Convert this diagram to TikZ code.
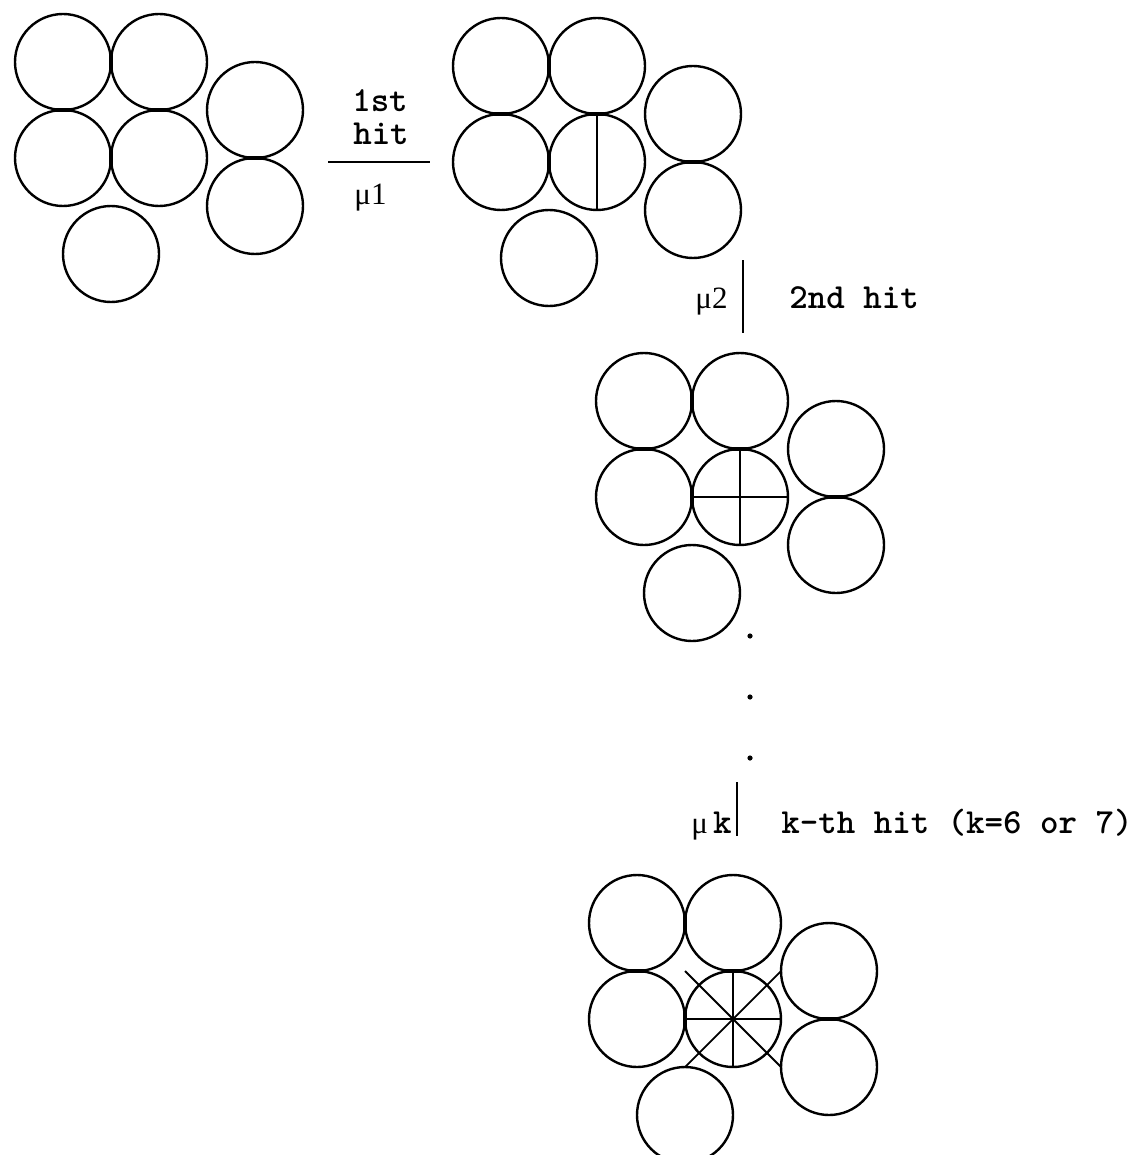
\documentclass[tikz,border=0pt]{standalone}
\usepackage{fontspec}
\setmainfont{Liberation Serif}
\usetikzlibrary{calc}
\tikzset{
  ball/.style={circle, draw, line width=1.2pt, minimum size=48pt, inner sep=0pt, outer sep=0pt},
  contact/.style={line width=2.4pt},
  hitline/.style={line width=1.3pt},
  diagline/.style={line width=0.9pt},
  conn/.style={line width=1.3pt},
  lab/.style={font=\ttfamily\bfseries\fontsize{17.6}{20}\selectfont, inner sep=0pt},
  mu/.style={font=\fontsize{15.5}{18}\selectfont, inner sep=0pt},
}
\newcommand\mycluster[4]{% #1 prefix, #2 x, #3 y, #4 name of middle-right ball
  \node[ball] (#1tl) at (#2,#3) {};
  \node[ball] (#1tr) at (#2+96,#3) {};
  \node[ball] (#1ml) at (#2,#3+96) {};
  \node[ball] (#1#4) at (#2+96,#3+96) {};
  \node[ball] (#1b)  at (#2+48,#3+192) {};
  \node[ball] (#1rt) at (#2+192,#3+48) {};
  \node[ball] (#1rb) at (#2+192,#3+144) {};
  \draw[contact] ($(#1tl.east)+(0,-10)$) -- ($(#1tl.east)+(0,10)$);
  \draw[contact] ($(#1tl.south)+(-10,0)$) -- ($(#1tl.south)+(10,0)$);
  \draw[contact] ($(#1tr.south)+(-10,0)$) -- ($(#1tr.south)+(10,0)$);
  \draw[contact] ($(#1ml.east)+(0,-10)$) -- ($(#1ml.east)+(0,10)$);
  \draw[contact] ($(#1rt.south)+(-10,0)$) -- ($(#1rt.south)+(10,0)$);
}
\begin{document}
\begin{tikzpicture}[x=0.5pt,y=-0.5pt]
  \useasboundingbox (0,0) rectangle (1143,1155);

  % clusters
  \mycluster{a}{63}{62}{mr}
  \mycluster{b}{501}{66}{mr}
  \mycluster{c}{644}{401}{mr}
  \mycluster{d}{637}{923}{c}

  % hit marks
  \draw[hitline] (bmr.north) -- (bmr.south);
  \draw[hitline] (cmr.north) -- (cmr.south);
  \draw[hitline] (cmr.west) -- (cmr.east);
  \draw[hitline] (dc.north) -- (dc.south);
  \draw[hitline] (dc.west) -- (dc.east);
  \draw[diagline] ($(dc.center)+(-48,-48)$) -- ($(dc.center)+(48,48)$);
  \draw[diagline] ($(dc.center)+(48,-48)$) -- ($(dc.center)+(-48,48)$);

  % step 1
  \coordinate (h1a) at (328,162);
  \coordinate (h1b) at (430,162);
  \draw[conn] (h1a) -- (h1b);
  \node[lab, anchor=base] (t1st) at (380,112) {1st};
  \node[lab, anchor=base] (thit) at (381,145) {hit};
  \node[mu, anchor=base west] (tmu1) at (354,205) {μ1};

  % step 2
  \coordinate (v2a) at (743,260);
  \coordinate (v2b) at (743,333);
  \draw[conn] (v2a) -- (v2b);
  \node[mu, anchor=base east] (tmu2) at (728,308) {μ2};
  \node[lab, anchor=base west] (t2nd) at (789,308) {2nd hit};

  % dots
  \fill (750,636) circle (1.3pt);
  \fill (750,697) circle (1.3pt);
  \fill (750,758) circle (1.3pt);

  % step k
  \coordinate (vka) at (737,782);
  \coordinate (vkb) at (737,836);
  \draw[conn] (vka) -- (vkb);
  \node[mu, anchor=base east] (tmuk) at (732,833) {μ\,{\ttfamily\bfseries\fontsize{17.6}{20}\selectfont k}};
  \node[lab, anchor=base west] (tkth) at (781,833) {k-th hit (k=6 or 7)};
\end{tikzpicture}
\end{document}
